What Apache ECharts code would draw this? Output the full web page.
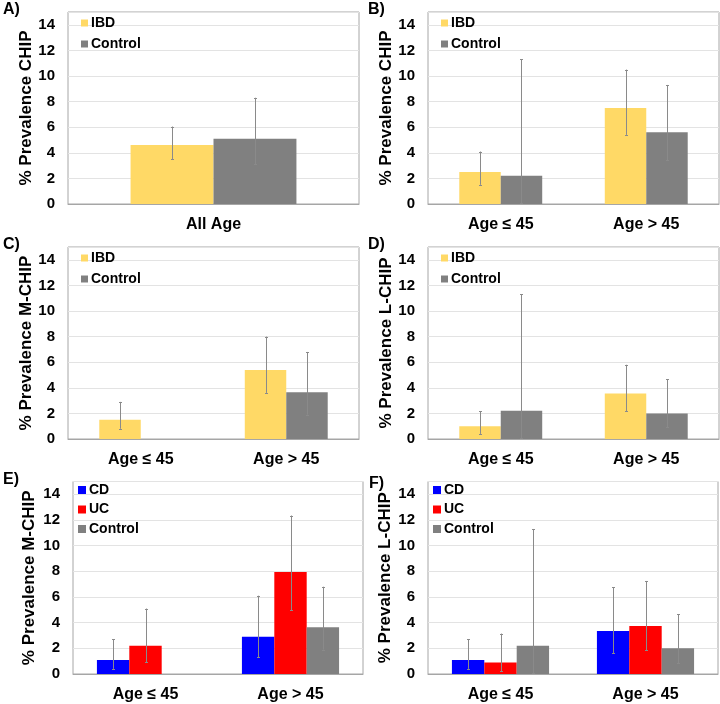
<!DOCTYPE html>
<html>
<head>
<meta charset="utf-8">
<script src="https://cdn.jsdelivr.net/npm/echarts@6/dist/echarts.min.js"></script>
<style>html,body{margin:0;padding:0;background:#fff}#c{width:720px;height:704px}</style>
</head>
<body>
<div id="c"></div>
<script>
// ---- DATA ----
const catsAll = ['All Age'];
const catsAge = ['Age ≤ 45', 'Age > 45'];

// Panel A (CHIP, all ages)
const aIBD = [4.6], aIBDLow = [3.5], aIBDHigh = [6.05];
const aCtrl = [5.1], aCtrlLow = [3.1], aCtrlHigh = [8.3];
// Panel B (CHIP by age)
const bIBD = [2.5, 7.5], bIBDLow = [1.5, 5.4], bIBDHigh = [4.1, 10.5];
const bCtrl = [2.2, 5.6], bCtrlLow = [0.05, 3.4], bCtrlHigh = [11.3, 9.3];
// Panel C (M-CHIP by age)
const cIBD = [1.5, 5.4], cIBDLow = [0.8, 3.6], cIBDHigh = [2.9, 8.0];
const cCtrl = [null, 3.65], cCtrlLow = [null, 1.9], cCtrlHigh = [null, 6.8];
// Panel D (L-CHIP by age)
const dIBD = [1.0, 3.55], dIBDLow = [0.4, 2.15], dIBDHigh = [2.15, 5.8];
const dCtrl = [2.2, 2.0], dCtrlLow = [0.05, 0.9], dCtrlHigh = [11.3, 4.65];
// Panel E (M-CHIP, CD / UC / Control)
const eCD = [1.1, 2.9], eCDLow = [0.4, 1.3], eCDHigh = [2.7, 6.1];
const eUC = [2.2, 7.95], eUCLow = [0.9, 4.95], eUCHigh = [5.1, 12.35];
const eCtrl = [null, 3.65], eCtrlLow = [null, 1.9], eCtrlHigh = [null, 6.8];
// Panel F (L-CHIP, CD / UC / Control)
const fCD = [1.1, 3.35], fCDLow = [0.4, 1.6], fCDHigh = [2.7, 6.75];
const fUC = [0.9, 3.75], fUCLow = [0.2, 1.85], fUCHigh = [3.15, 7.25];
const fCtrl = [2.2, 2.0], fCtrlLow = [0.05, 0.85], fCtrlHigh = [11.3, 4.65];

const yTicksMax = 15, yTickStep = 2;

// ---- STYLE ----
const FONT = "'Liberation Sans', Arial, sans-serif";
const C_IBD = '#FFD966', C_CTRL = '#808080', C_CD = '#0000FF', C_UC = '#FF0000';

const option = {
  animation: false,
  backgroundColor: '#fff',
  grid: [], xAxis: [], yAxis: [], series: [], legend: [], graphic: []
};

function addPanel(p) {
  const gi = option.grid.length;
  option.grid.push({ left: p.left, top: p.top, width: p.width, height: p.height,
    show: true, borderColor: '#a6a6a6', borderWidth: 1, containLabel: false });
  option.xAxis.push({ type: 'category', gridIndex: gi, data: p.cats,
    axisTick: { show: false },
    axisLine: { lineStyle: { color: '#a6a6a6', width: 1 } },
    axisLabel: { fontSize: 16, fontWeight: 'bold', color: '#000', fontFamily: FONT, margin: 13 } });
  option.yAxis.push({ type: 'value', gridIndex: gi, min: 0, max: yTicksMax, interval: yTickStep,
    axisLine: { show: false }, axisTick: { show: false },
    axisLabel: { fontSize: 15, fontWeight: 'bold', color: '#000', fontFamily: FONT, margin: 13, showMaxLabel: false },
    splitLine: { lineStyle: { color: '#e3e3e3', width: 1 } },
    name: p.yName, nameLocation: 'middle', nameGap: p.nameGap,
    nameTextStyle: { fontSize: 17, fontWeight: 'bold', color: '#000', fontFamily: FONT } });
  const n = p.series.length;
  const gap = p.gap;
  p.series.forEach((s, k) => {
    option.series.push({ type: 'bar', name: s.name, xAxisIndex: gi, yAxisIndex: gi,
      data: s.vals.map(v => v === null ? '-' : v),
      barGap: 0, barCategoryGap: (gap * 100) + '%',
      itemStyle: { color: s.color }, emphasis: { disabled: true } });
  });
  p.series.forEach((s, k) => {
    const ed = [];
    s.vals.forEach((v, i) => { if (v !== null) ed.push([i, s.lo[i], s.hi[i]]); });
    option.series.push({ type: 'custom', name: 'err_' + gi + '_' + k, xAxisIndex: gi, yAxisIndex: gi,
      data: ed, encode: { x: 0, y: [1, 2] }, z: 10, silent: true,
      renderItem: function (params, api) {
        const ci = api.value(0), lo = api.value(1), hi = api.value(2);
        const c0 = api.coord([ci, 0]);
        const bw = api.size([1, 0])[0];
        const barW = bw * (1 - gap) / n;
        let x = c0[0] - n * barW / 2 + (k + 0.5) * barW;
        x = Math.round(x) + 0.5;
        const y1 = api.coord([ci, lo])[1], y2 = api.coord([ci, hi])[1];
        const st = { stroke: '#8a8a8a', lineWidth: 1 };
        return { type: 'group', children: [
          { type: 'line', shape: { x1: x, y1: y1, x2: x, y2: y2 }, style: st },
          { type: 'line', shape: { x1: x - 1.5, y1: Math.round(y1) + 0.5, x2: x + 1.5, y2: Math.round(y1) + 0.5 }, style: st },
          { type: 'line', shape: { x1: x - 1.5, y1: Math.round(y2) + 0.5, x2: x + 1.5, y2: Math.round(y2) + 0.5 }, style: st }
        ] };
      } });
  });
  option.legend.push({ orient: 'vertical', left: p.legLeft, top: p.legTop, padding: 0,
    itemWidth: p.legIcon, itemHeight: p.legIcon, itemGap: p.legGap, icon: 'rect', selectedMode: false,
    data: p.series.map(s => s.name),
    textStyle: { fontSize: 14, fontWeight: 'bold', color: '#000', fontFamily: FONT, padding: [0, 0, 0, -2] } });
  option.graphic.push({ type: 'text', left: p.labX, top: p.labY,
    style: { text: p.label, font: 'bold 16px ' + FONT, fill: '#000' } });
}

addPanel({ label: 'A)', labX: 3, labY: 2, left: 68, top: 12, width: 291, height: 192, cats: catsAll,
  yName: '% Prevalence CHIP', nameGap: 33, gap: 0.43, legLeft: 81, legTop: 16, legIcon: 7, legGap: 7,
  series: [ { name: 'IBD', color: C_IBD, vals: aIBD, lo: aIBDLow, hi: aIBDHigh },
            { name: 'Control', color: C_CTRL, vals: aCtrl, lo: aCtrlLow, hi: aCtrlHigh } ] });
addPanel({ label: 'B)', labX: 368, labY: 2, left: 428, top: 12, width: 291, height: 192, cats: catsAge,
  yName: '% Prevalence CHIP', nameGap: 33, gap: 0.43, legLeft: 441, legTop: 16, legIcon: 7, legGap: 7,
  series: [ { name: 'IBD', color: C_IBD, vals: bIBD, lo: bIBDLow, hi: bIBDHigh },
            { name: 'Control', color: C_CTRL, vals: bCtrl, lo: bCtrlLow, hi: bCtrlHigh } ] });
addPanel({ label: 'C)', labX: 3, labY: 237, left: 68, top: 247, width: 291, height: 192, cats: catsAge,
  yName: '% Prevalence M-CHIP', nameGap: 33, gap: 0.43, legLeft: 81, legTop: 251, legIcon: 7, legGap: 7,
  series: [ { name: 'IBD', color: C_IBD, vals: cIBD, lo: cIBDLow, hi: cIBDHigh },
            { name: 'Control', color: C_CTRL, vals: cCtrl, lo: cCtrlLow, hi: cCtrlHigh } ] });
addPanel({ label: 'D)', labX: 368, labY: 237, left: 428, top: 247, width: 291, height: 192, cats: catsAge,
  yName: '% Prevalence L-CHIP', nameGap: 33, gap: 0.43, legLeft: 441, legTop: 251, legIcon: 7, legGap: 7,
  series: [ { name: 'IBD', color: C_IBD, vals: dIBD, lo: dIBDLow, hi: dIBDHigh },
            { name: 'Control', color: C_CTRL, vals: dCtrl, lo: dCtrlLow, hi: dCtrlHigh } ] });
addPanel({ label: 'E)', labX: 3, labY: 472, left: 73, top: 481.5, width: 290, height: 192.5, cats: catsAge,
  yName: '% Prevalence M-CHIP', nameGap: 35, gap: 0.33, legLeft: 78, legTop: 483, legIcon: 8, legGap: 5.5,
  series: [ { name: 'CD', color: C_CD, vals: eCD, lo: eCDLow, hi: eCDHigh },
            { name: 'UC', color: C_UC, vals: eUC, lo: eUCLow, hi: eUCHigh },
            { name: 'Control', color: C_CTRL, vals: eCtrl, lo: eCtrlLow, hi: eCtrlHigh } ] });
addPanel({ label: 'F)', labX: 369, labY: 476, left: 428, top: 481.5, width: 290, height: 192.5, cats: catsAge,
  yName: '% Prevalence L-CHIP', nameGap: 34, gap: 0.33, legLeft: 433, legTop: 483, legIcon: 8, legGap: 5.5,
  series: [ { name: 'CD', color: C_CD, vals: fCD, lo: fCDLow, hi: fCDHigh },
            { name: 'UC', color: C_UC, vals: fUC, lo: fUCLow, hi: fUCHigh },
            { name: 'Control', color: C_CTRL, vals: fCtrl, lo: fCtrlLow, hi: fCtrlHigh } ] });

const chart = echarts.init(document.getElementById('c'), null, { renderer: 'canvas' });
chart.setOption(option);
</script>
</body>
</html>
